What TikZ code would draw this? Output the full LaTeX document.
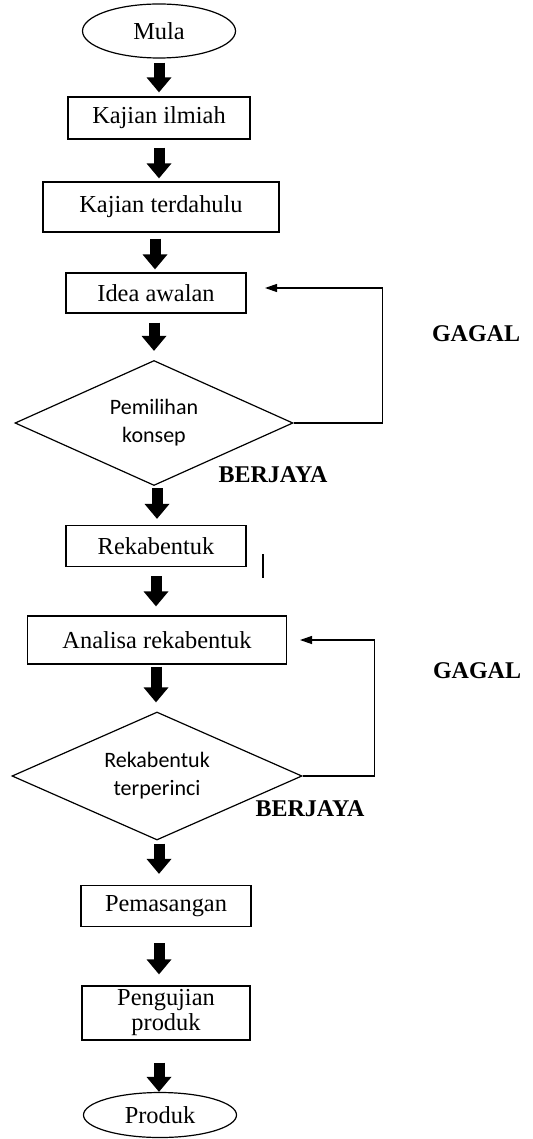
\documentclass[tikz,border=0pt]{standalone}
\usepackage{fontspec}
\setmainfont{Liberation Serif}
\newfontfamily\calibri{Carlito}
\usetikzlibrary{shapes.geometric,arrows.meta}

\begin{document}
\begin{tikzpicture}[x=0.5pt, y=-0.5pt, line width=0.6pt,
    process/.style ={rectangle, draw, inner sep=0pt, align=center,
                     font=\fontsize{12.2}{12.5}\selectfont},
    terminal/.style ={ellipse, draw, inner sep=0pt, font=\fontsize{12.2}{14}\selectfont},
    decision/.style ={diamond, draw, inner sep=0pt, aspect=2.2, align=center,
                      font=\calibri\fontsize{11}{14}\selectfont},
    flow/.style ={line width=5.5pt, -{Triangle[width=12pt,length=7.5pt]}},
    loopback/.style ={-{Triangle[width=4pt,length=6pt]}},
    result/.style ={font=\bfseries\fontsize{12}{14}\selectfont}]
   \useasboundingbox (0,0) rectangle (532,1139);
   \node[terminal, minimum width=76.5pt, minimum height=27pt] (mula) at (159,31) {Mula};
   \node[process, minimum width=91pt, minimum height=21pt] (ilmiah) at (159,118) {Kajian ilmiah};
   \node[process, minimum width=118pt, minimum height=25pt] (dahulu) at (161,207) {Kajian terdahulu};
   \node[process, minimum width=90pt, minimum height=20pt] (idea) at (156,293) {Idea awalan};
   \node[decision, minimum width=139pt, minimum height=62.5pt] (pilih) at (154,423) {Pemilihan\\konsep};
   \node[process, minimum width=90pt, minimum height=20.5pt] (reka) at (156,546) {Rekabentuk};
   \node[process, minimum width=129.5pt, minimum height=24pt] (analisa) at (157,640) {Analisa rekabentuk};
   \node[decision, minimum width=145pt, minimum height=64pt] (rinci) at (157,776) {Rekabentuk\\terperinci};
   \node[process, minimum width=85pt, minimum height=20.5pt] (pasang) at (166,906) {Pemasangan};
   \node[process, minimum width=84pt, minimum height=27pt] (uji) at (166,1013) {Pengujian\\produk};
   \node[terminal, minimum width=76.5pt, minimum height=22.5pt] (produk) at (160,1115) {Produk};

   \node[result] (gagal1) at (476,334) {GAGAL};
   \node[result] (jaya1) at (273,475) {BERJAYA};
   \node[result] (gagal2) at (477,671) {GAGAL};
   \node[result] (jaya2) at (310,809) {BERJAYA};

   % main flow
   \draw[flow, shorten <=2pt, shorten >=2pt] (mula.south) -- (mula.south |- ilmiah.north);
   \draw[flow, shorten <=4pt, shorten >=1.5pt] (ilmiah.south) -- (ilmiah.south |- dahulu.north);
   \draw[flow, shorten <=3pt, shorten >=1.5pt] ([xshift=-3pt]dahulu.south) -- ([xshift=-3pt]dahulu.south |- idea.north);
   \draw[flow, shorten <=4.5pt, shorten >=4.5pt] ([xshift=-1pt]idea.south) -- ([xshift=-1pt]idea.south |- pilih.north);
   \draw[flow, shorten <=1pt, shorten >=3pt] ([xshift=1.5pt]pilih.south) -- ([xshift=1.5pt]pilih.south |- reka.north);
   \draw[flow, shorten <=4.5pt, shorten >=4.5pt] (reka.south) -- (reka.south |- analisa.north);
   \draw[flow, shorten <=1pt, shorten >=4.5pt] ([xshift=-0.5pt]analisa.south) -- ([xshift=-0.5pt]analisa.south |- rinci.north);
   \draw[flow, shorten <=1.5pt, shorten >=5.5pt] ([xshift=1pt]rinci.south) -- ([xshift=1pt]rinci.south |- pasang.north);
   \draw[flow, shorten <=8pt, shorten >=5.5pt] ([xshift=-3.5pt]pasang.south) -- ([xshift=-3.5pt]pasang.south |- uji.north);
   \draw[flow, shorten <=11pt, shorten >=0pt] ([xshift=-3.5pt]uji.south) -- ([xshift=-3.5pt]uji.south |- produk.north);

   % loops back
   \coordinate (back1) at (265,288);
   \coordinate (back2) at (300,640);
   \draw[loopback] (pilih.east) -- ++(89,0) |- (back1);
   \draw[loopback] (rinci.east) -- ++(72,0) |- (back2);

   \draw (263,554) -- (263,578);
\end{tikzpicture}
\end{document}
